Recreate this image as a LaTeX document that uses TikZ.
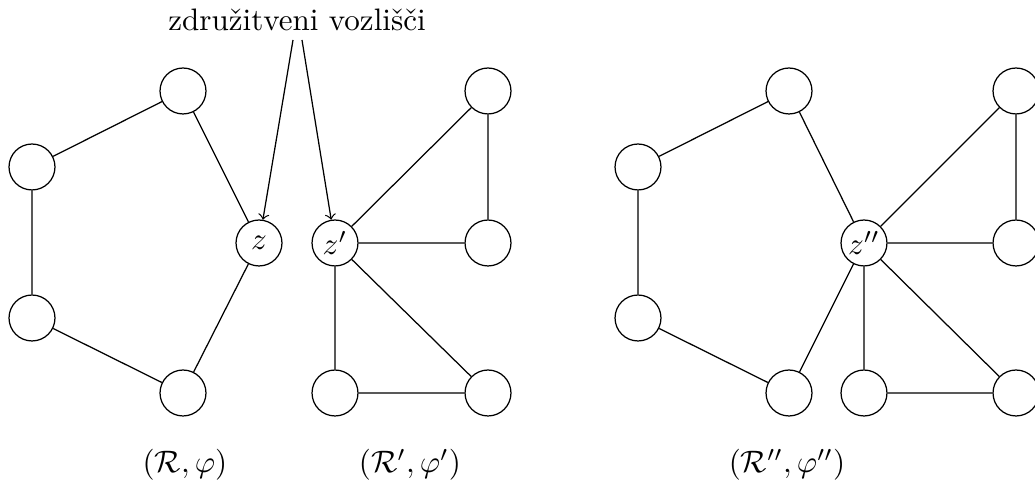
\documentclass[tikz,border=0pt]{standalone}
\begin{document}
\begin{tikzpicture}[x=0.322pt,y=-0.322pt,
  vtx/.style={circle,draw,minimum size=14.8pt,inner sep=0pt},
  edge/.style={draw,line width=0.4pt}]
\useasboundingbox (0,0) rectangle (1035,490);
% left graph
\node[vtx] (a1) at (183,91) {};
\node[vtx] (a2) at (32,167) {};
\node[vtx] (a3) at (32,318) {};
\node[vtx] (a4) at (183,393) {};
\node[vtx] (z) at (259,243) {$z$};
\draw (a1) -- (a2) -- (a3) -- (a4) -- (z) -- (a1);
% middle graph
\node[vtx] (z1) at (335,243) {$z'$};
\node[vtx] (b1) at (488,91) {};
\node[vtx] (b2) at (488,243) {};
\node[vtx] (b3) at (335,393) {};
\node[vtx] (b4) at (488,393) {};
\draw (z1) -- (b1) -- (b2) -- (z1);
\draw (z1) -- (b3) -- (b4) -- (z1);
% right graph
\node[vtx] (z2) at (864,243) {$z''$};
\node[vtx] (c1) at (789,91) {};
\node[vtx] (c2) at (638,167) {};
\node[vtx] (c3) at (638,318) {};
\node[vtx] (c4) at (789,393) {};
\node[vtx] (d1) at (1016,91) {};
\node[vtx] (d2) at (1016,243) {};
\node[vtx] (d3) at (864,393) {};
\node[vtx] (d4) at (1016,393) {};
\draw (c1) -- (c2) -- (c3) -- (c4) -- (z2) -- (c1);
\draw (z2) -- (d1) -- (d2) -- (z2);
\draw (z2) -- (d3) -- (d4) -- (z2);
% label and arrows
\node (lab) at (297,20) {zdru\v{z}itveni vozli\v{s}\v{c}i};
\coordinate (s1) at (293,40);
\coordinate (s2) at (302,40);
\draw[->] (s1) -- (z);
\draw[->] (s2) -- (z1);
% captions
\node (t1) at (185,465) {$(\mathcal{R},\varphi)$};
\node (t2) at (410,465) {$(\mathcal{R}',\varphi')$};
\node (t3) at (787,465) {$(\mathcal{R}'',\varphi'')$};
\end{tikzpicture}
\end{document}
